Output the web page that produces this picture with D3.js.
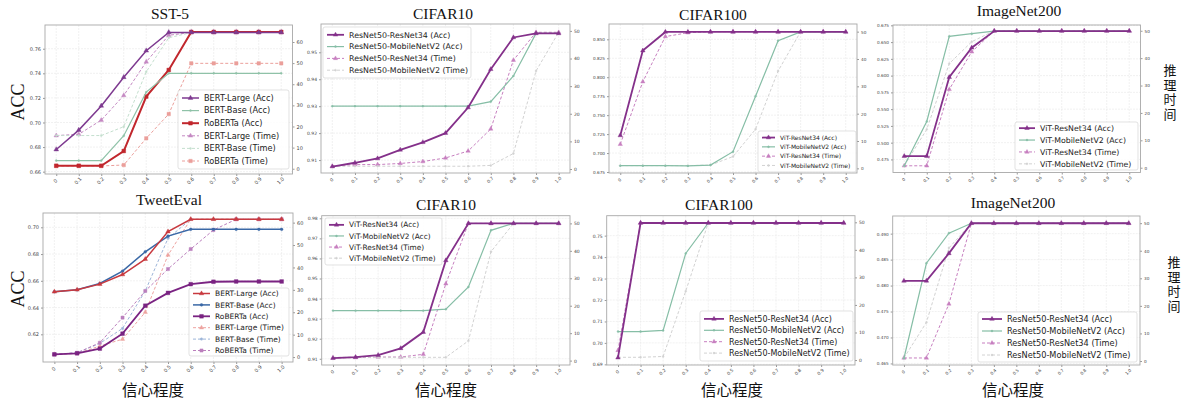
<!DOCTYPE html>
<html>
<head>
<meta charset="utf-8">
<script src="https://cdn.jsdelivr.net/npm/d3@7"></script>
<style>
  body { margin: 0; background: #fff; }
  svg { display: block; }
</style>
</head>
<body>
<svg id="chart" width="1184" height="405"></svg>
<script>
// x positions (confidence level) and their labels
const confidence = [0, 0.1, 0.2, 0.3, 0.4, 0.5, 0.6, 0.7, 0.8, 0.9, 1.0];
const confidenceLabels = ["0", "0.1", "0.2", "0.3", "0.4", "0.5", "0.6", "0.7", "0.8", "0.9", "1.0"];

// SST-5
const sstBertLargeAcc = [0.678, 0.6938, 0.7135, 0.7368, 0.7584, 0.7733, 0.7733, 0.7733, 0.7733, 0.7733, 0.7733];
const sstBertBaseAcc = [0.669, 0.669, 0.669, 0.6892, 0.7247, 0.740, 0.740, 0.740, 0.740, 0.740, 0.740];
const sstRobertaAcc = [0.6648, 0.6648, 0.6648, 0.6768, 0.7211, 0.7427, 0.7737, 0.7737, 0.7737, 0.7737, 0.7737];
const sstBertLargeTime = [15.7, 16.3, 23.0, 34.7, 50.6, 63.2, 64.5, 64.5, 64.5, 64.5, 64.5];
const sstBertBaseTime = [15.7, 15.7, 15.7, 19.9, 45.9, 62.0, 64.5, 64.5, 64.5, 64.5, 64.5];
const sstRobertaTime = [1.3, 1.3, 1.3, 1.75, 14.4, 25.9, 49.9, 49.9, 49.9, 49.9, 49.9];

// TweetEval
const tweetBertLargeAcc = [0.6518, 0.6533, 0.6575, 0.6647, 0.6762, 0.6968, 0.706, 0.706, 0.706, 0.706, 0.706];
const tweetBertBaseAcc = [0.6518, 0.6533, 0.658, 0.6672, 0.6817, 0.6934, 0.6985, 0.6985, 0.6985, 0.6985, 0.6985];
const tweetRobertaAcc = [0.605, 0.6058, 0.6093, 0.6205, 0.6414, 0.651, 0.6575, 0.6593, 0.6595, 0.6595, 0.6595];
const tweetBertLargeTime = [1.2, 1.6, 4.9, 8.0, 20.0, 45.5, 61.5, 61.5, 61.5, 61.5, 61.5];
const tweetBertBaseTime = [1.2, 1.9, 6.1, 12.8, 29.5, 53.0, 61.5, 61.5, 61.5, 61.5, 61.5];
const tweetRobertaTime = [1.2, 1.9, 6.4, 17.6, 29.5, 39.3, 48.2, 56.7, 61.5, 61.5, 61.5];

// CIFAR10, ResNet50 teacher
const c10ResR34Acc = [0.9076, 0.909, 0.9106, 0.9138, 0.9166, 0.920, 0.9295, 0.9437, 0.9555, 0.957, 0.957];
const c10ResMnAcc = [0.930, 0.930, 0.930, 0.930, 0.930, 0.930, 0.930, 0.9317, 0.9412, 0.957, 0.957];
const c10ResR34Time = [1.0, 1.6, 1.6, 2.0, 2.7, 4.0, 6.5, 14.5, 39.4, 49.5, 49.5];
const c10ResMnTime = [1.0, 1.0, 1.0, 1.0, 1.0, 1.0, 1.0, 1.3, 5.6, 35.5, 49.5];

// CIFAR100, ViT teacher
const c100VitR34Acc = [0.7232, 0.8351, 0.8597, 0.8597, 0.8597, 0.8597, 0.8597, 0.8597, 0.8597, 0.8597, 0.8597];
const c100VitMnAcc = [0.6833, 0.6833, 0.6833, 0.683, 0.6842, 0.7018, 0.7749, 0.8482, 0.8597, 0.8597, 0.8597];
const c100VitR34Time = [8.8, 31.7, 48.2, 49.6, 50, 50, 50, 50, 50, 50, 50];
const c100VitMnTime = [1.0, 1.0, 1.0, 1.0, 1.2, 4.3, 14.3, 35.6, 50, 50, 50];

// ImageNet200, ViT teacher
const inVitR34Acc = [0.4799, 0.4799, 0.5976, 0.6416, 0.6665, 0.6665, 0.6665, 0.6665, 0.6665, 0.6665, 0.6665];
const inVitMnAcc = [0.4655, 0.5316, 0.6585, 0.6625, 0.6665, 0.6665, 0.6665, 0.6665, 0.6665, 0.6665, 0.6665];
const inVitR34Time = [0.7, 0.7, 28.6, 42.3, 50, 50, 50, 50, 50, 50, 50];
const inVitMnTime = [0.7, 14.0, 38.0, 46.0, 50, 50, 50, 50, 50, 50, 50];

// CIFAR10, ViT teacher
const c10VitR34Acc = [0.9103, 0.9108, 0.9118, 0.9152, 0.9233, 0.959, 0.9775, 0.9775, 0.9775, 0.9775, 0.9775];
const c10VitMnAcc = [0.934, 0.934, 0.934, 0.934, 0.934, 0.9347, 0.9458, 0.974, 0.9775, 0.9775, 0.9775];
const c10VitR34Time = [1.0, 1.1, 1.3, 1.3, 2.3, 28.0, 50, 50, 50, 50, 50];
const c10VitMnTime = [1.2, 1.2, 1.2, 1.2, 1.2, 1.2, 7.2, 39.7, 50, 50, 50];

// CIFAR100, ResNet50 teacher
const c100ResR34Acc = [0.6931, 0.7559, 0.7559, 0.7559, 0.7559, 0.7559, 0.7559, 0.7559, 0.7559, 0.7559, 0.7559];
const c100ResMnAcc = [0.7053, 0.7053, 0.7058, 0.7417, 0.7559, 0.7559, 0.7559, 0.7559, 0.7559, 0.7559, 0.7559];
const c100ResR34Time = [3.5, 49.8, 49.8, 49.8, 49.8, 49.8, 49.8, 49.8, 49.8, 49.8, 49.8];
const c100ResMnTime = [1.0, 1.0, 1.3, 25.0, 49.8, 49.8, 49.8, 49.8, 49.8, 49.8, 49.8];

// ImageNet200, ResNet50 teacher
const inResR34Acc = [0.4809, 0.4809, 0.4862, 0.492, 0.492, 0.492, 0.492, 0.492, 0.492, 0.492, 0.492];
const inResMnAcc = [0.466, 0.4843, 0.4901, 0.492, 0.492, 0.492, 0.492, 0.492, 0.492, 0.492, 0.492];
const inResR34Time = [1.1, 1.1, 20.7, 50, 50, 50, 50, 50, 50, 50, 50];
const inResMnTime = [1.1, 14.0, 41.0, 50, 50, 50, 50, 50, 50, 50, 50];

// tick values
const sstAccTicks = [0.66, 0.68, 0.70, 0.72, 0.74, 0.76];
const tweetAccTicks = [0.62, 0.64, 0.66, 0.68, 0.70];
const c10ResAccTicks = [0.91, 0.92, 0.93, 0.94, 0.95];
const c100VitAccTicks = [0.675, 0.700, 0.725, 0.750, 0.775, 0.800, 0.825, 0.850];
const inVitAccTicks = [0.475, 0.500, 0.525, 0.550, 0.575, 0.600, 0.625, 0.650, 0.675];
const c10VitAccTicks = [0.91, 0.92, 0.93, 0.94, 0.95, 0.96, 0.97, 0.98];
const c100ResAccTicks = [0.69, 0.70, 0.71, 0.72, 0.73, 0.74, 0.75];
const inResAccTicks = [0.465, 0.470, 0.475, 0.480, 0.485, 0.490];
const timeTicks60 = [0, 10, 20, 30, 40, 50, 60];
const timeTicks50 = [0, 10, 20, 30, 40, 50];

// styles
const purple = "#84308a", teal = "#86bea6", pinkT = "#c77fc0", grayT = "#d2d2d2";

function vitPair(prefix, r34Acc, mnAcc, r34Time, mnTime) {
  return [
    { name: prefix + "-ResNet34 (Acc)", v: r34Acc, ax: "acc", c: purple, w: 1.8, m: "tri", ms: 9 },
    { name: prefix + "-MobileNetV2 (Acc)", v: mnAcc, ax: "acc", c: teal, w: 1.2, m: "dot", ms: 3 },
    { name: prefix + "-ResNet34 (Time)", v: r34Time, ax: "time", c: pinkT, w: 1, dash: "3,2", m: "tri", ms: 8 },
    { name: prefix + "-MobileNetV2 (Time)", v: mnTime, ax: "time", c: grayT, w: 1, dash: "3,2", m: "dot", ms: 3 }
  ];
}

const panels = [
  { title: "SST-5", tx: 170, ty: 19, box: [45, 25, 292.5, 174], accDom: [0.6581, 0.7793], accTicks: sstAccTicks, fmt: ".2f",
    timeDom: [-2.5, 68.05], timeTicks: timeTicks60, fs: 5,
    series: [
      { name: "BERT-Large (Acc)", v: sstBertLargeAcc, ax: "acc", c: "#7e3a90", w: 1.5, m: "tri", ms: 10 },
      { name: "BERT-Base (Acc)", v: sstBertBaseAcc, ax: "acc", c: "#8fc2a8", w: 1.2, m: "dot", ms: 3 },
      { name: "RoBERTa (Acc)", v: sstRobertaAcc, ax: "acc", c: "#c1272d", w: 2, m: "sq", ms: 14 },
      { name: "BERT-Large (Time)", v: sstBertLargeTime, ax: "time", c: "#c488c2", w: 1, dash: "3,2", m: "tri", ms: 9 },
      { name: "BERT-Base (Time)", v: sstBertBaseTime, ax: "time", c: "#c4dfce", w: 1, dash: "3,2", m: "dot", ms: 3 },
      { name: "RoBERTa (Time)", v: sstRobertaTime, ax: "time", c: "#eb9f9b", w: 1, dash: "3,2", m: "sq", ms: 12 }
    ],
    legend: { x: 178, y: 90, w: 111, h: 79, row: 12.6, len: 17, fs: 8.2 } },
  { title: "CIFAR10", tx: 443, ty: 19, box: [321, 24, 570, 173], accDom: [0.9052, 0.9605], accTicks: c10ResAccTicks, fmt: ".2f",
    timeDom: [-1.45, 52.5], timeTicks: timeTicks50, fs: 4.5,
    series: vitPair("ResNet50", c10ResR34Acc, c10ResMnAcc, c10ResR34Time, c10ResMnTime),
    legend: { x: 323, y: 27, w: 148, h: 51, row: 11.8, len: 17, fs: 7.9 } },
  { title: "CIFAR100", tx: 713, ty: 20, box: [609, 24, 857, 173], accDom: [0.6737, 0.8702], accTicks: c100VitAccTicks, fmt: ".3f",
    timeDom: [-1.7, 52.8], timeTicks: timeTicks50, fs: 4.2,
    series: vitPair("ViT", c100VitR34Acc, c100VitMnAcc, c100VitR34Time, c100VitMnTime),
    legend: { x: 758, y: 131, w: 98, h: 41, row: 9.3, len: 13, fs: 6.0 } },
  { title: "ImageNet200", tx: 1019, ty: 16, box: [893, 25, 1140.5, 172.5], accDom: [0.4555, 0.6755], accTicks: inVitAccTicks, fmt: ".3f",
    timeDom: [-1.75, 52.1], timeTicks: timeTicks50, fs: 4.2,
    series: vitPair("ViT", inVitR34Acc, inVitMnAcc, inVitR34Time, inVitMnTime),
    legend: { x: 1015, y: 122, w: 123, h: 48, row: 11.9, len: 16, fs: 7.8 } },
  { title: "TweetEval", tx: 169, ty: 205, box: [43, 213, 293, 362], accDom: [0.5993, 0.7107], accTicks: tweetAccTicks, fmt: ".2f",
    timeDom: [-2.2, 64.3], timeTicks: timeTicks60, fs: 5,
    series: [
      { name: "BERT-Large (Acc)", v: tweetBertLargeAcc, ax: "acc", c: "#c8393f", w: 1.5, m: "tri", ms: 9 },
      { name: "BERT-Base (Acc)", v: tweetBertBaseAcc, ax: "acc", c: "#3a68a6", w: 1.5, m: "dot", ms: 6 },
      { name: "RoBERTa (Acc)", v: tweetRobertaAcc, ax: "acc", c: "#7a2382", w: 1.8, m: "sq", ms: 14 },
      { name: "BERT-Large (Time)", v: tweetBertLargeTime, ax: "time", c: "#eea3a0", w: 1, dash: "3,2", m: "tri", ms: 8 },
      { name: "BERT-Base (Time)", v: tweetBertBaseTime, ax: "time", c: "#9db5d9", w: 1, dash: "3,2", m: "dot", ms: 5 },
      { name: "RoBERTa (Time)", v: tweetRobertaTime, ax: "time", c: "#bb7fbd", w: 1, dash: "3,2", m: "sq", ms: 10 }
    ],
    legend: { x: 189, y: 288, w: 100, h: 68, row: 11.4, len: 17, fs: 7.5 } },
  { title: "CIFAR10", tx: 446, ty: 210, box: [321.7, 215.7, 570, 365], accDom: [0.9069, 0.9813], accTicks: c10VitAccTicks, fmt: ".2f",
    timeDom: [-1.6, 52.8], timeTicks: timeTicks50, fs: 4.5,
    series: vitPair("ViT", c10VitR34Acc, c10VitMnAcc, c10VitR34Time, c10VitMnTime),
    legend: { x: 325, y: 218, w: 117, h: 47, row: 11.1, len: 15, fs: 7.4 } },
  { title: "CIFAR100", tx: 719, ty: 210, box: [606.7, 215.7, 855, 365], accDom: [0.6897, 0.7593], accTicks: c100ResAccTicks, fmt: ".2f",
    timeDom: [-1.8, 52.4], timeTicks: timeTicks50, fs: 4.5,
    series: vitPair("ResNet50", c100ResR34Acc, c100ResMnAcc, c100ResR34Time, c100ResMnTime),
    legend: { x: 700, y: 311, w: 153, h: 50, row: 11.4, len: 20, fs: 8.0 } },
  { title: "ImageNet200", tx: 1013, ty: 208, box: [892.7, 216, 1140, 365], accDom: [0.4647, 0.4934], accTicks: inResAccTicks, fmt: ".3f",
    timeDom: [-1.45, 52.6], timeTicks: timeTicks50, fs: 4.2,
    series: vitPair("ResNet50", inResR34Acc, inResMnAcc, inResR34Time, inResMnTime),
    legend: { x: 978, y: 312, w: 159, h: 50, row: 12, len: 20, fs: 8.2 } }
];

const svg = d3.select("#chart");
svg.append("rect").attr("width", 1184).attr("height", 405).attr("fill", "#fff");

const symbols = { tri: d3.symbolTriangle, sq: d3.symbolSquare, dot: d3.symbolCircle };

panels.forEach(p => {
  const [x0, y0, x1, y1] = p.box;
  const x = d3.scaleLinear().domain([-0.05, 1.05]).range([x0, x1]);
  const yAcc = d3.scaleLinear().domain(p.accDom).range([y1, y0]);
  const yTime = d3.scaleLinear().domain(p.timeDom).range([y1, y0]);
  const g = svg.append("g");

  // grid
  g.append("g").selectAll("line").data(confidence).join("line")
    .attr("x1", d => x(d)).attr("x2", d => x(d)).attr("y1", y0).attr("y2", y1)
    .attr("stroke", "#e8e8e8").attr("stroke-width", 0.6).attr("stroke-dasharray", "2,1");
  g.append("g").selectAll("line").data(p.accTicks).join("line")
    .attr("x1", x0).attr("x2", x1).attr("y1", d => yAcc(d)).attr("y2", d => yAcc(d))
    .attr("stroke", "#e8e8e8").attr("stroke-width", 0.6).attr("stroke-dasharray", "2,1");

  // axes
  const left = g.append("g").attr("transform", `translate(${x0},0)`)
    .call(d3.axisLeft(yAcc).tickValues(p.accTicks).tickFormat(d3.format(p.fmt)).tickSize(2).tickPadding(2));
  const right = g.append("g").attr("transform", `translate(${x1},0)`)
    .call(d3.axisRight(yTime).tickValues(p.timeTicks).tickSize(2).tickPadding(2));
  const bottom = g.append("g").attr("transform", `translate(0,${y1})`)
    .call(d3.axisBottom(x).tickValues(confidence).tickFormat((d, i) => confidenceLabels[i]).tickSize(2).tickPadding(2));
  [left, right, bottom].forEach(a => {
    a.select(".domain").remove();
    a.selectAll(".tick line").attr("stroke", "#999");
    a.selectAll("text").attr("fill", "#444").style("font-family", "DejaVu Sans").style("font-size", p.fs + "px");
  });
  bottom.selectAll("text")
    .attr("text-anchor", "middle").attr("dy", null).attr("y", 0)
    .attr("transform", "translate(0,8) rotate(-45)");

  // frame
  g.append("rect").attr("x", x0).attr("y", y0).attr("width", x1 - x0).attr("height", y1 - y0)
    .attr("fill", "none").attr("stroke", "#a8a8a8").attr("stroke-width", 0.9);

  // series (time first so acc lines sit on top)
  const ordered = p.series.filter(s => s.ax === "time").concat(p.series.filter(s => s.ax === "acc").reverse());
  ordered.forEach(s => {
    const yS = s.ax === "acc" ? yAcc : yTime;
    const line = d3.line().x((d, i) => x(confidence[i])).y(d => yS(d));
    g.append("path").datum(s.v).attr("d", line).attr("fill", "none")
      .attr("stroke", s.c).attr("stroke-width", s.w).attr("stroke-dasharray", s.dash || null);
    g.append("g").selectAll("path").data(s.v).join("path")
      .attr("transform", (d, i) => `translate(${x(confidence[i])},${yS(d)})`)
      .attr("d", d3.symbol().type(symbols[s.m]).size(s.ms))
      .attr("fill", s.c).attr("stroke", s.c).attr("stroke-width", 0.4);
  });

  // legend
  const L = p.legend;
  const lg = g.append("g");
  lg.append("rect").attr("x", L.x).attr("y", L.y).attr("width", L.w).attr("height", L.h).attr("rx", 2)
    .attr("fill", "rgba(255,255,255,0.85)").attr("stroke", "#d6d6d6").attr("stroke-width", 0.7);
  const first = L.y + (L.h - p.series.length * L.row) / 2 + L.row / 2;
  p.series.forEach((s, i) => {
    const cy = first + i * L.row;
    const lx0 = L.x + 4, lx1 = L.x + 4 + L.len;
    lg.append("line").attr("x1", lx0).attr("x2", lx1).attr("y1", cy).attr("y2", cy)
      .attr("stroke", s.c).attr("stroke-width", s.w).attr("stroke-dasharray", s.dash || null);
    lg.append("path").attr("transform", `translate(${(lx0 + lx1) / 2},${cy})`)
      .attr("d", d3.symbol().type(symbols[s.m]).size(s.ms)).attr("fill", s.c).attr("stroke", s.c).attr("stroke-width", 0.4);
    lg.append("text").attr("x", lx1 + 5).attr("y", cy).attr("dy", "0.35em")
      .style("font-family", "DejaVu Sans").style("font-size", L.fs + "px").attr("fill", "#222")
      .text(s.name);
  });

  // title
  g.append("text").attr("x", p.tx).attr("y", p.ty).attr("text-anchor", "middle")
    .style("font-family", "Liberation Serif").style("font-size", "15.5px").attr("fill", "#111")
    .text(p.title);
});

// shared axis titles
const accLabelY = [102, 289];
accLabelY.forEach(cy => {
  svg.append("text").attr("transform", `translate(24,${cy}) rotate(-90)`).attr("text-anchor", "middle")
    .style("font-family", "Liberation Serif").style("font-size", "18px").attr("fill", "#111").text("ACC");
});

const xTitleCenters = [153, 446, 732, 1013];
xTitleCenters.forEach(cx => {
  svg.append("text").attr("x", cx).attr("y", 396).attr("text-anchor", "middle")
    .style("font-family", "Noto Sans CJK SC").style("font-size", "15.5px").attr("fill", "#111").text("信心程度");
});

// vertical right-hand label, written top to bottom
[[1170, 93], [1174, 285]].forEach(([cx, cy]) => {
  svg.append("text").attr("x", cx).attr("y", cy).attr("text-anchor", "middle")
    .style("writing-mode", "vertical-rl").style("letter-spacing", "1.5px")
    .style("font-family", "Noto Sans CJK SC").style("font-size", "13px").attr("fill", "#111")
    .text("推理时间");
});
</script>
</body>
</html>
